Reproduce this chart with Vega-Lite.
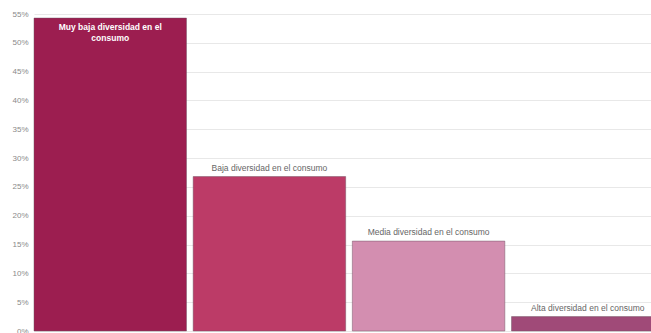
{
  "$schema": "https://vega.github.io/schema/vega-lite/v6.json",
  "autosize": {"type": "none"},
  "padding": {"left": 34, "top": 14, "right": 0, "bottom": 2},
  "width": 630,
  "height": 317,
  "config": {"view": {"stroke": null}, "font": "Liberation Sans"},
  "data": {"values": [
    {"cat": "Muy baja diversidad en el consumo", "value": 0.543, "order": 1},
    {"cat": "Baja diversidad en el consumo", "value": 0.268, "order": 2},
    {"cat": "Media diversidad en el consumo", "value": 0.156, "order": 3},
    {"cat": "Alta diversidad en el consumo", "value": 0.025, "order": 4}
  ]},
  "encoding": {
    "x": {"field": "cat", "type": "nominal",
          "sort": ["Muy baja diversidad en el consumo", "Baja diversidad en el consumo", "Media diversidad en el consumo", "Alta diversidad en el consumo"],
          "axis": null,
          "scale": {"paddingInner": 0.042, "paddingOuter": 0}},
    "y": {"field": "value", "type": "quantitative",
          "scale": {"domain": [0, 0.55], "nice": false},
          "axis": {"values": [0,0.05,0.1,0.15,0.2,0.25,0.3,0.35,0.4,0.45,0.5,0.55], "format": ".0%",
                   "title": null, "domain": false, "ticks": false, "labelFontSize": 8, "labelColor": "#8a8a8a",
                   "labelPadding": 6, "gridColor": "#e8e8e8", "labelFont": "Liberation Sans"}}
  },
  "layer": [
    {"mark": {"type": "bar", "stroke": "#6a5060", "strokeWidth": 1, "strokeOpacity": 0.45},
     "encoding": {"color": {"field": "cat", "type": "nominal", "legend": null,
        "scale": {"domain": ["Muy baja diversidad en el consumo", "Baja diversidad en el consumo", "Media diversidad en el consumo", "Alta diversidad en el consumo"],
                  "range": ["#9c1e50", "#bc3b67", "#d38eb0", "#a04a78"]}}}},
    {"transform": [{"filter": "datum.order > 1"}],
     "mark": {"type": "text", "baseline": "bottom", "dy": -4, "fontSize": 8.5, "color": "#666666"},
     "encoding": {"text": {"field": "cat"}}},
    {"transform": [{"filter": "datum.order == 1"}],
     "mark": {"type": "text", "baseline": "top", "dy": 5, "fontSize": 8.5, "color": "#ffffff", "fontWeight": "bold", "lineBreak": "|", "lineHeight": 11},
     "encoding": {"text": {"value": "Muy baja diversidad en el|consumo"}}}
  ]
}
